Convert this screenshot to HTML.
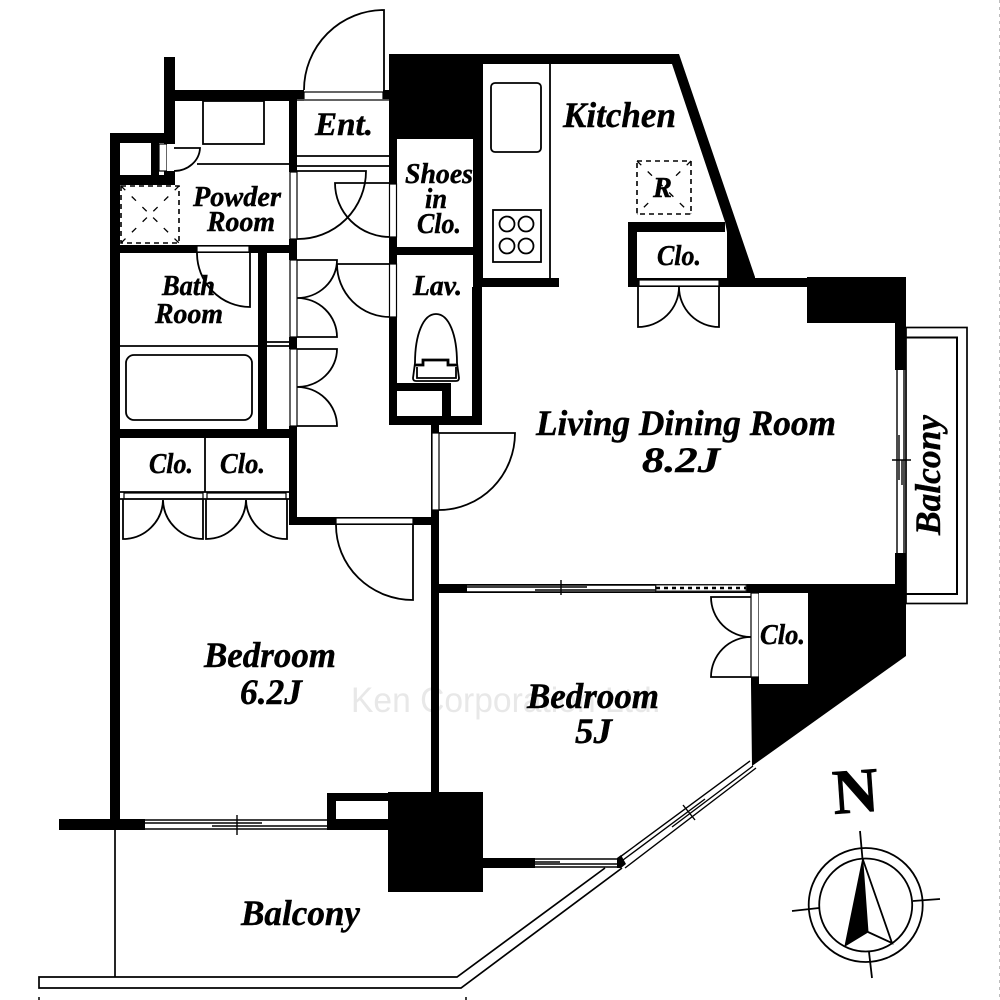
<!DOCTYPE html>
<html>
<head>
<meta charset="utf-8">
<style>
html,body{margin:0;padding:0;background:#fff;}
svg{display:block;}
.t{font-family:"Liberation Serif",serif;font-weight:bold;font-style:italic;fill:#000;stroke:#000;stroke-width:.45;}
</style>
</head>
<body>
<svg xmlns="http://www.w3.org/2000/svg" width="1000" height="1000" viewBox="0 0 1000 1000">
<rect width="1000" height="1000" fill="#fff"/>
<!-- watermark -->
<text x="351" y="712" font-family="Liberation Sans,sans-serif" font-size="35" fill="#e8e8e8" textLength="310" lengthAdjust="spacingAndGlyphs">Ken Corporation Ltd.</text>

<!-- balcony rails -->
<g fill="none" stroke="#000" stroke-width="1.7">
<polyline points="605,868 457,977 39,977 39,988 461,988 622,868"/>
<line x1="115" y1="830" x2="115" y2="977"/>
<rect x="906" y="327.500" width="61" height="276"/>
<polyline points="906,337.500 957,337.500 957,594 906,594" stroke-width="2"/>
</g>

<!-- walls -->
<g fill="#000">
<rect x="164" y="57" width="11" height="128"/>
<rect x="164" y="90" width="140" height="11"/>
<rect x="110" y="133" width="65" height="10"/>
<rect x="110" y="133" width="10" height="697"/>
<rect x="151" y="143" width="8" height="42"/>
<rect x="110" y="175" width="65" height="10"/>
<rect x="289" y="90" width="8" height="82"/>
<rect x="289" y="239" width="8" height="21"/>
<rect x="289" y="337" width="8" height="12"/>
<rect x="289" y="426" width="8" height="99"/>
<rect x="120" y="245" width="177" height="8"/>
<rect x="258" y="253" width="9" height="180"/>
<rect x="120" y="429" width="177" height="9"/>
<rect x="289" y="517" width="150" height="8"/>
<rect x="431" y="425" width="8" height="370"/>
<rect x="389" y="54" width="94" height="85"/>
<rect x="383" y="90" width="8" height="10"/>
<rect x="389" y="137" width="8" height="47"/>
<rect x="389" y="237" width="8" height="27"/>
<rect x="389" y="317" width="8" height="108"/>
<rect x="473" y="54" width="10" height="233"/>
<rect x="472" y="287" width="10" height="138"/>
<rect x="397" y="247" width="76" height="8"/>
<rect x="389" y="383" width="62" height="8"/>
<rect x="442" y="383" width="9" height="33"/>
<rect x="389" y="416" width="93" height="9"/>
<rect x="483" y="54" width="196" height="10"/>
<rect x="482" y="278" width="77" height="9"/>
<rect x="628" y="222" width="97" height="10"/>
<rect x="628" y="222" width="9" height="65"/>
<rect x="628" y="278" width="278" height="9"/>
<polygon points="672,64 679,54 755,277 755,287 727,287 727,232 725,222"/>
<rect x="807" y="277" width="99" height="46"/>
<rect x="895" y="277" width="11" height="93"/>
<rect x="895" y="553" width="11" height="42"/>
<rect x="431" y="584" width="475" height="9"/>
<polygon points="808,593 906,593 906,656 752,766 751,684 808,684"/>
<rect x="751" y="593" width="8" height="92"/>
<rect x="59" y="819" width="86" height="11"/>
<rect x="327" y="793" width="61" height="8"/>
<rect x="327" y="793" width="9" height="37"/>
<rect x="327" y="819" width="61" height="11"/>
<rect x="388" y="792" width="95" height="100"/>
<rect x="483" y="858" width="52" height="10"/>
<polygon points="617,858 621,855 626,864 621,868 617,868"/>
</g>

<!-- openings -->
<g fill="#fff" stroke="#000" stroke-width="1.200">
<rect x="159" y="144" width="8" height="27"/>
<rect x="167" y="144" width="8" height="27" stroke="none"/>
<rect x="304" y="92" width="79" height="8"/>
<rect x="290" y="172" width="7" height="67"/>
<rect x="389.500" y="184" width="7" height="53"/>
<rect x="290" y="260" width="7" height="77"/>
<rect x="290" y="349" width="7" height="77"/>
<rect x="389.500" y="264" width="7" height="53"/>
<rect x="197" y="246" width="52" height="6"/>
<rect x="432" y="433" width="7" height="77"/>
<rect x="336" y="518" width="77" height="6"/>
<rect x="639" y="280" width="80" height="6"/>
<rect x="124" y="493" width="79" height="6"/>
<rect x="207" y="493" width="79" height="6"/>
<rect x="751" y="593" width="8" height="84"/>
</g>
<rect x="759" y="593" width="49" height="91" fill="#fff"/>

<!-- fixtures and door swings -->
<g fill="none" stroke="#000" stroke-width="1.800">
<rect x="203" y="101" width="61" height="43"/>
<line x1="197" y1="164" x2="289" y2="164"/>
<path d="M174,148H200A26,24 0 0 1 174,171"/>
<path d="M384,90V10A80,80 0 0 0 304,90"/>
<line x1="297" y1="156" x2="389" y2="156"/>
<line x1="297" y1="166" x2="389" y2="166"/>
<line x1="297" y1="100" x2="389" y2="100" stroke="#555"/>
<path d="M297,171H366A68,68 0 0 1 297,239"/>
<path d="M390,183H335A55,54 0 0 0 390,237"/>
<path d="M297,260H337A40,38 0 0 1 297,298A40,39 0 0 1 337,337H297"/>
<path d="M297,349H337A40,38 0 0 1 297,387A40,39 0 0 1 337,426H297"/>
<path d="M390,264H337A53,53 0 0 0 390,317"/>
<path d="M250,253V307A53,54 0 0 1 197,253"/>
<line x1="120" y1="346" x2="258" y2="346"/>
<rect x="126" y="355" width="126" height="65" rx="8"/>
<line x1="267" y1="342" x2="289" y2="342"/>
<line x1="267" y1="346" x2="289" y2="346"/>
<line x1="205" y1="438" x2="205" y2="492"/>
<line x1="120" y1="492" x2="289" y2="492"/>
<line x1="120" y1="499" x2="289" y2="499"/>
<path d="M123,499V539A40,40 0 0 0 163,500A40,40 0 0 0 203,539V499"/>
<path d="M206,499V539A40,40 0 0 0 246,500A40,40 0 0 0 287,539V499"/>
<path d="M413,525V600A77,75 0 0 1 336,525"/>
<path d="M439,433H515A76,77 0 0 1 439,510"/>
<path d="M415,363C415,335 423,314 436,314C449,314 457,335 457,363"/>
<path d="M415,363L413,378Q413,381 416,381H456Q459,381 459,378L457,363"/>
<path d="M415,365H423V360H448V365H457" stroke-width="2.800"/>
<path d="M417,367V378H456V367"/>
<line x1="550" y1="64" x2="550" y2="278"/>
<rect x="491" y="83" width="50" height="69" rx="4"/>
<rect x="493" y="210" width="48" height="52"/>
<circle cx="507" cy="224" r="7.500"/><circle cx="526" cy="224" r="7.500"/>
<circle cx="507" cy="246" r="7.500"/><circle cx="526" cy="246" r="7.500"/>
<path d="M638,287V327A41,40 0 0 0 679,287A40,40 0 0 0 719,327V287"/>
<path d="M751,597H711A40,40 0 0 0 751,637A40,40 0 0 0 711,677H751"/>
</g>

<!-- dashed squares -->
<g fill="none" stroke="#000" stroke-width="1.600" stroke-dasharray="5 4">
<rect x="121" y="186" width="58" height="57"/>
<path d="M121,186L179,243M179,186L121,243" stroke-width="1.300" stroke-dasharray="6 9"/>
<rect x="637" y="161" width="54" height="53"/>
<path d="M637,161L691,214M691,161L637,214" stroke-width="1.300" stroke-dasharray="6 9"/>
</g>

<!-- windows -->
<rect x="145" y="820" width="182" height="9" fill="#fff"/>
<rect x="467" y="585" width="188" height="7" fill="#fff"/>
<rect x="896.500" y="370" width="8" height="183" fill="#fff"/>
<rect x="535" y="859" width="82" height="8" fill="#fff"/>
<g fill="none" stroke="#000" stroke-width="1.400">
<path d="M145,820H327M145,829H327M145,823H262M212,826H327"/>
<line x1="237" y1="815" x2="237" y2="835"/>
<path d="M467,585H655M467,592H655M467,587H587M535,590H655"/>
<line x1="561" y1="580" x2="561" y2="595"/>
<path d="M897,370V553M904,370V553M899,435V480M902,460V485" />
<line x1="892" y1="460" x2="911" y2="460"/>
<path d="M535,859H617M535,867H617M535,862H560M535,864H617"/>
<path d="M620,857L750,761M623,860L705,799M672,827L753,766M625,868L756,768"/>
<line x1="683" y1="805" x2="695" y2="820"/>
</g>
<rect x="656" y="585" width="90" height="6" fill="#fff" stroke="#333" stroke-width="1"/>
<line x1="656" y1="588" x2="746" y2="588" stroke="#000" stroke-width="2.500" stroke-dasharray="4 4"/>

<!-- compass -->
<g fill="none" stroke="#000" stroke-width="1.800">
<circle cx="865.700" cy="905" r="57"/>
<circle cx="865.700" cy="905" r="46.500"/>
<line x1="860" y1="831" x2="862.500" y2="859"/>
<line x1="913" y1="901" x2="940" y2="899"/>
<line x1="792" y1="911" x2="819" y2="908"/>
<line x1="869" y1="952" x2="872" y2="978"/>
<polyline points="862.700,859 892,943 868,932"/>
</g>
<polygon points="862.700,859 845,946 868,932" fill="#000" stroke="#000"/>
<text x="0" y="0" transform="translate(834,814) rotate(-4)" font-family="Liberation Serif,serif" font-weight="bold" font-size="64" stroke="#000" stroke-width=".6" textLength="46" lengthAdjust="spacingAndGlyphs">N</text>

<!-- labels -->
<g font-size="36">
<text class="t" x="536" y="435" textLength="300" lengthAdjust="spacingAndGlyphs">Living Dining Room</text>
<text class="t" x="642" y="472" textLength="78" lengthAdjust="spacingAndGlyphs">8.2J</text>
<text class="t" x="563" y="127" textLength="113" lengthAdjust="spacingAndGlyphs">Kitchen</text>
<text class="t" x="204" y="667" textLength="132" lengthAdjust="spacingAndGlyphs">Bedroom</text>
<text class="t" x="240" y="704" textLength="62" lengthAdjust="spacingAndGlyphs">6.2J</text>
<text class="t" x="527" y="708" textLength="132" lengthAdjust="spacingAndGlyphs">Bedroom</text>
<text class="t" x="575" y="743" textLength="37" lengthAdjust="spacingAndGlyphs">5J</text>
<text class="t" x="241" y="925" textLength="119" lengthAdjust="spacingAndGlyphs">Balcony</text>
<text class="t" transform="translate(940,535) rotate(-90)" x="0" y="0" textLength="120" lengthAdjust="spacingAndGlyphs">Balcony</text>
</g>
<g font-size="28">
<text class="t" x="315" y="135" font-size="33" textLength="58" lengthAdjust="spacingAndGlyphs">Ent.</text>
<text class="t" x="405" y="183" textLength="68" lengthAdjust="spacingAndGlyphs">Shoes</text>
<text class="t" x="425" y="208" textLength="22" lengthAdjust="spacingAndGlyphs">in</text>
<text class="t" x="417" y="233" textLength="44" lengthAdjust="spacingAndGlyphs">Clo.</text>
<text class="t" x="193" y="206" textLength="88" lengthAdjust="spacingAndGlyphs">Powder</text>
<text class="t" x="207" y="231" textLength="68" lengthAdjust="spacingAndGlyphs">Room</text>
<text class="t" x="162" y="295" textLength="53" lengthAdjust="spacingAndGlyphs">Bath</text>
<text class="t" x="155" y="323" textLength="68" lengthAdjust="spacingAndGlyphs">Room</text>
<text class="t" x="413" y="295" textLength="49" lengthAdjust="spacingAndGlyphs">Lav.</text>
<text class="t" x="149" y="473" textLength="44" lengthAdjust="spacingAndGlyphs">Clo.</text>
<text class="t" x="220" y="473" textLength="45" lengthAdjust="spacingAndGlyphs">Clo.</text>
<text class="t" x="657" y="265" textLength="44" lengthAdjust="spacingAndGlyphs">Clo.</text>
<text class="t" x="760" y="644" textLength="45" lengthAdjust="spacingAndGlyphs">Clo.</text>
<text class="t" x="653" y="197" textLength="19" lengthAdjust="spacingAndGlyphs">R</text>
</g>

<path d="M39,997V1000M466,997V1000" stroke="#000" stroke-width="1.500"/>
<line x1="999.500" y1="0" x2="999.500" y2="1000" stroke="#bdbdbd" stroke-width="1" stroke-dasharray="3 4"/>
</svg>
</body>
</html>
